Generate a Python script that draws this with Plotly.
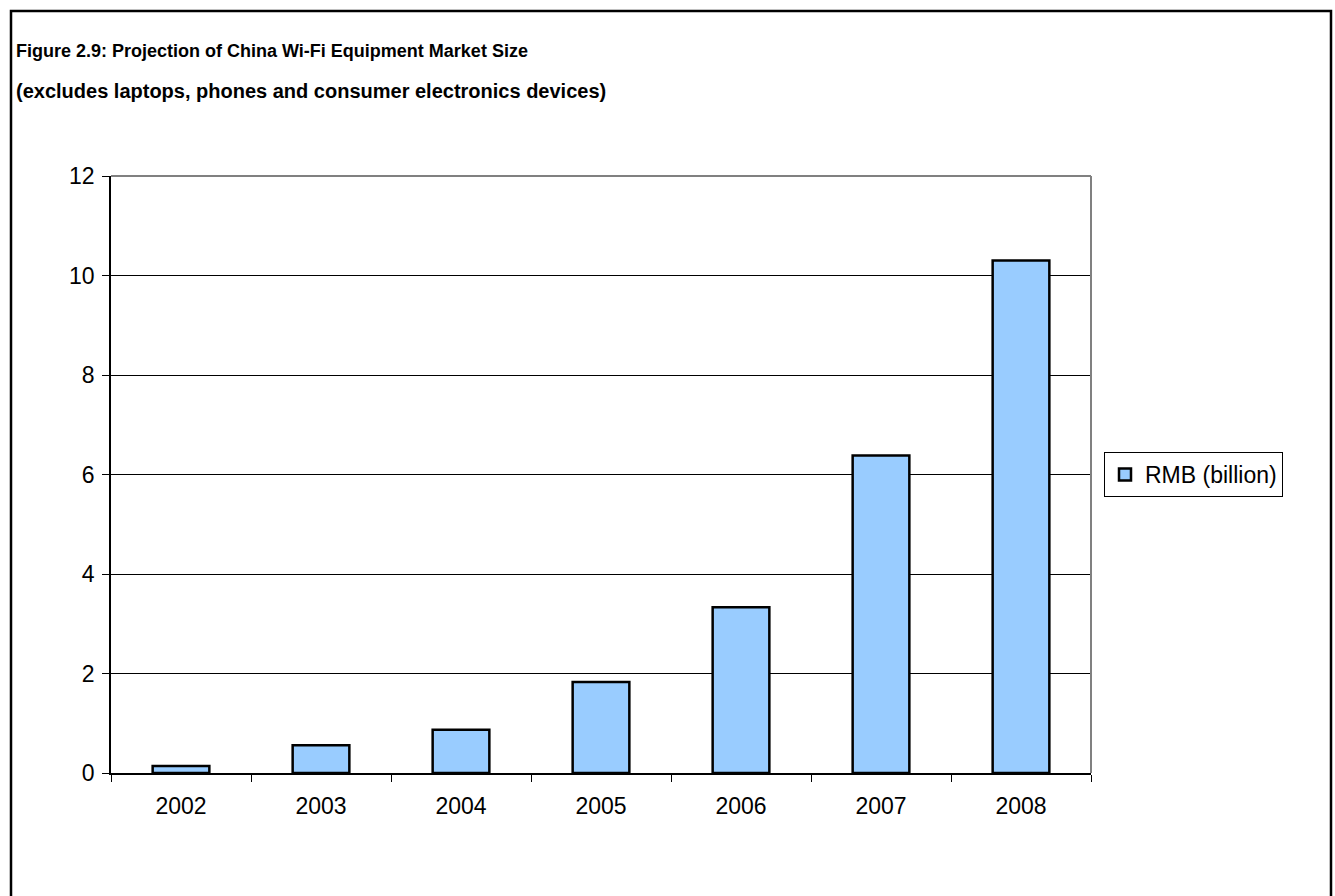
import plotly.graph_objects as go

years = ["2002", "2003", "2004", "2005", "2006", "2007", "2008"]
rmb_billion = [0.14, 0.56, 0.87, 1.83, 3.33, 6.38, 10.30]
series_name = "RMB (billion)"
title_line1 = "Figure 2.9: Projection of China Wi-Fi Equipment Market Size"
title_line2 = "(excludes laptops, phones and consumer electronics devices)"
y_ticks = [0, 2, 4, 6, 8, 10, 12]

W, H = 1335, 896
L, R, T, B = 111, 1091, 176, 773
pw, ph = R - L, B - T

def px(x):
    return (x - L) / pw

def py(y):
    return (B - y) / ph

fig = go.Figure()
fig.add_trace(go.Bar(
    x=years, y=rmb_billion, name=series_name,
    marker=dict(color="#99CCFF", line=dict(color="black", width=2.5)),
    width=0.405, showlegend=True,
))

font_main = "Arial, Liberation Sans, sans-serif"
fig.update_layout(
    width=W, height=H,
    margin=dict(l=L, r=W - R, t=T, b=H - B, pad=0),
    paper_bgcolor="white", plot_bgcolor="white",
    font=dict(family=font_main, size=23, color="black"),
    showlegend=True,
    legend=dict(
        x=px(1104), y=py(474.5), xanchor="left", yanchor="middle",
        bordercolor="black", borderwidth=1, bgcolor="white",
        font=dict(size=23, family=font_main),
        itemwidth=30, tracegroupgap=0,
    ),
    xaxis=dict(
        type="category", showgrid=False, showline=True, linecolor="black", linewidth=1.5,
        ticks="outside", tickson="boundaries", ticklen=7, tickcolor="black", tickwidth=1,
        ticklabelstandoff=12, tickfont=dict(size=23),
    ),
    yaxis=dict(
        range=[0, 12], tickvals=y_ticks, showgrid=True, gridcolor="black", gridwidth=1,
        showline=True, linecolor="black", linewidth=1.5, zeroline=False,
        ticks="outside", ticklen=7, tickcolor="black", tickwidth=1,
        ticklabelstandoff=3, tickfont=dict(size=23),
    ),
)

# plot area top & right border (gray)
fig.add_shape(type="line", xref="paper", yref="paper", x0=0, x1=1, y0=1, y1=1,
              line=dict(color="#808080", width=2))
fig.add_shape(type="line", xref="paper", yref="paper", x0=1, x1=1, y0=0, y1=1,
              line=dict(color="#808080", width=2))
# outer frame
fig.add_shape(type="rect", xref="paper", yref="paper",
              x0=px(11), x1=px(1331), y0=py(905), y1=py(11),
              line=dict(color="black", width=2.5), fillcolor="rgba(0,0,0,0)", layer="above")

for txt, yc, sz in [(title_line1, 51, 18), (title_line2, 91, 20)]:
    fig.add_annotation(
        text="<b>" + txt + "</b>", xref="paper", yref="paper",
        x=px(14), y=py(yc), xanchor="left", yanchor="middle", showarrow=False,
        font=dict(family=font_main, size=sz, color="black"),
    )

fig.write_html("out.html")
